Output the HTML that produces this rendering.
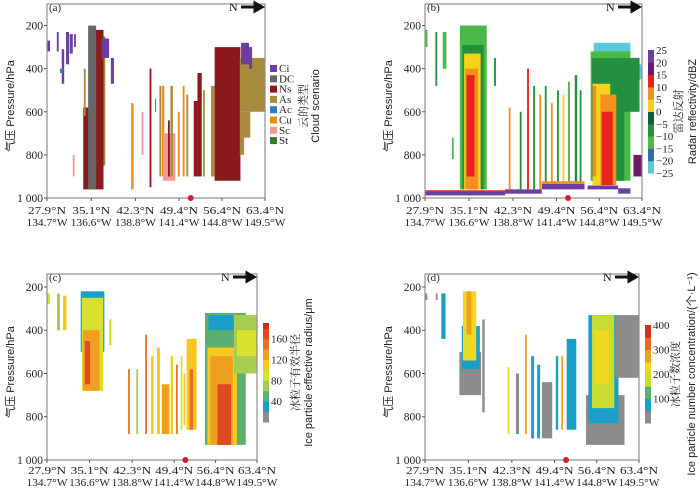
<!DOCTYPE html>
<html><head><meta charset="utf-8">
<style>
html,body{margin:0;padding:0;background:#fff;}
svg{display:block;font-family:"Liberation Serif","Noto Serif CJK SC",serif;}
</style></head>
<body>
<svg id="fig" width="700" height="498" viewBox="0 0 700 498" xmlns="http://www.w3.org/2000/svg"></svg>
<script>
// ---------- data ----------
const latTicks = [27.9, 35.1, 42.3, 49.4, 56.4, 63.4];
const lonTicks = ["134.7°W", "136.6°W", "138.8°W", "141.4°W", "144.8°W", "149.5°W"];
const presTicks = [200, 400, 600, 800, 1000];
const markerLat = 51.3;

const cloudClasses = ["Ci", "DC", "Ns", "As", "Ac", "Cu", "Sc", "St"];
const cloudColors = ["#6a3fa0", "#676767", "#8c1a1c", "#a68c3c", "#3a78b8", "#f08c1e", "#f29a98", "#3a7a2c"];

// [lat0, lat1, pTop, pBot, class]
const cloudSegs = [
 [28.0,28.4,270,320,"Ci"],[29.5,29.8,230,320,"Ci"],[30.3,30.7,310,470,"Ci"],[31.0,31.5,230,380,"Ci"],[31.6,32.1,240,330,"Ci"],[32.3,32.6,240,300,"Ci"],
 [30.0,30.5,400,420,"Ac"],[32.1,32.4,800,900,"Sc"],
 [33.8,35.9,580,960,"Ns"],[35.8,37.1,220,960,"Ns"],[34.6,35.9,200,960,"DC"],[33.9,34.2,400,620,"As"],[37.1,37.4,250,850,"As"],
 [36.8,38.0,260,350,"Ci"],[38.3,38.8,350,470,"Ci"],
 [41.6,42.0,560,960,"Cu"],[43.3,43.6,600,800,"Sc"],[44.6,44.9,400,950,"Ns"],[45.5,45.6,540,600,"Ac"],
 [46.2,46.5,480,900,"As"],[46.6,47.0,480,900,"Cu"],[46.8,48.8,700,920,"Sc"],[47.6,47.9,640,900,"Ns"],[48.0,48.4,480,900,"As"],
 [49.2,49.5,600,900,"Cu"],[50.0,50.3,480,900,"Cu"],[50.6,50.9,520,900,"As"],[51.8,52.4,550,900,"Ns"],[52.4,53.1,420,900,"Ns"],[53.3,53.6,500,900,"As"],
 [54.6,55.2,480,900,"As"],[55.2,59.4,300,920,"Ns"],
 [59.3,63.3,350,600,"As"],[59.3,61.0,600,720,"As"],[59.3,60.0,720,800,"As"],[59.5,60.8,280,380,"Ci"],[60.8,61.3,300,400,"Ci"]
];

// radar reflectivity (dBZ)
const dbzLevels = [-25,-20,-15,-10,-5,0,5,10,15,20,25];
const dbzColors = ["#5cc8dc","#2c6cb0","#4cb848","#22903e","#0e5e3a","#f7d21a","#f29020","#e8221c","#6a1b6a","#6b3fa0"];
const dbzSegs = [
 [33.6,38.0,200,960,-12],[34.0,37.5,290,960,-7],[34.3,37.0,330,960,2],[34.5,36.6,400,960,7],[34.7,36.0,430,900,12],
 [28.0,28.3,220,300,-12],[29.6,29.9,230,480,-10],[30.8,31.4,230,400,-12],[32.3,32.6,720,820,-12],[39.2,39.5,350,480,-10],
 [55.5,61.5,280,340,-22],[60.0,63.3,380,450,-22],
 [55.0,61.5,320,920,-12],[55.2,60.5,350,920,-7],[59.5,63.0,350,600,-10],
 [55.3,58.2,470,940,2],[56.6,59.2,520,940,7],[56.8,58.6,600,940,12],[55.3,55.9,480,900,7],[62.0,63.3,800,900,17],
 [41.6,41.9,580,960,5],[44.6,44.9,400,960,10],[45.6,45.9,480,960,-10],[46.6,46.9,520,960,5],[47.5,47.8,480,960,-10],
 [48.5,48.8,560,960,5],[49.5,49.8,500,960,-10],[50.4,50.7,520,960,2],[51.3,51.6,460,960,-12],[52.4,52.8,430,940,-10],
 [53.2,53.5,500,940,-10],[43.4,43.7,600,960,-10],
 [28.0,41.0,972,988,22],[28.0,41.0,964,972,12],[41.0,47.0,960,980,22],[47.0,54.0,935,960,22],[47.0,54.0,922,935,7],
 [54.5,59.5,942,960,22],[59.5,61.5,955,980,22]
];

// ice effective radius (um)
const reLevels = [0,20,40,60,80,100,120,140,160,180,190];
const reColors = ["#8c8c8c","#1aa0c8","#5ab070","#a8cc50","#d8e030","#f8c820","#f0a020","#e87020","#e04a20","#c8281e"];
const reSegs = [
 [33.6,37.6,220,500,30],[33.8,37.4,250,680,90],[34.0,36.8,400,680,130],[34.3,35.2,450,650,165],
 [28.0,28.4,230,280,90],[29.6,30.1,230,400,70],[30.6,31.2,240,400,100],[38.4,38.8,350,470,90],
 [41.6,41.9,580,880,150],[44.5,44.8,420,880,140],[43.0,43.3,580,880,60],[45.5,45.9,520,880,110],[46.5,47.0,480,880,110],
 [47.3,48.6,650,880,130],[48.8,49.2,520,880,100],[49.7,50.0,560,880,150],[50.5,50.8,520,860,90],[51.5,53.2,440,860,100],
 [52.0,52.6,580,860,140],[51.0,51.3,600,840,100],
 [54.6,61.5,320,930,50],[55.2,60.0,330,400,25],[55.0,60.0,480,930,100],[55.5,59.3,520,930,130],[56.7,59.0,650,930,165],
 [59.5,63.3,330,600,60],[60.0,63.3,400,520,80]
];

// ice number concentration (per L)
const ncLevels = [0,50,100,150,200,250,300,350,400];
const ncColors = ["#8c8c8c","#1aa0c8","#5ab070","#c8dc30","#f0d820","#f0a020","#e86a20","#d8301e"];
const ncSegs = [
 [33.6,37.2,500,700,20],[34.0,37.0,380,580,80],[34.2,36.4,220,540,210],[34.8,35.6,220,420,290],[37.4,37.8,350,780,20],
 [28.0,28.3,230,260,20],[30.6,31.3,230,440,70],[29.7,30.0,230,260,20],
 [41.6,41.9,570,880,220],[44.5,44.8,420,880,260],[45.5,46.0,520,900,70],[46.5,47.0,560,900,70],[47.3,49.0,640,900,20],
 [49.6,50.0,520,860,80],[50.5,50.8,520,860,260],[51.4,53.0,440,860,80],[43.0,43.5,600,880,20],
 [54.6,61.0,700,930,20],[55.0,60.0,330,830,80],[55.6,59.3,330,760,160],[56.0,58.5,400,650,220],[59.5,63.3,330,620,20]
];

// ---------- drawing ----------
const NS = "http://www.w3.org/2000/svg";
const svg = document.getElementById("fig");
function mk(tag, attrs, parent, text){
  const e = document.createElementNS(NS, tag);
  for (const k in attrs) e.setAttribute(k, attrs[k]);
  if (text !== undefined) e.textContent = text;
  (parent||svg).appendChild(e);
  return e;
}
function colorFor(levels, colors, v){
  for (let i = 0; i < colors.length; i++) if (v < levels[i+1]) return colors[i];
  return colors[colors.length-1];
}

const panels = [
 {id:"a", x0:47, x1:265, yT:4, yB:198, pT:100},
 {id:"b", x0:425, x1:642, yT:4, yB:198, pT:100},
 {id:"c", x0:47, x1:257, yT:274, yB:460, pT:140},
 {id:"d", x0:425, x1:639, yT:274, yB:460, pT:140}
];

panels.forEach(P => {
  const g = mk("g", {});
  
  
  const xs = lat => P.x0 + (lat - latTicks[0]) / (latTicks[5] - latTicks[0]) * (P.x1 - P.x0);
  const ys = p => P.yT + (p - P.pT) / (1000 - P.pT) * (P.yB - P.yT);

  let segs, colf;
  if (P.id === "a") { segs = cloudSegs; colf = c => cloudColors[cloudClasses.indexOf(c)]; }
  else if (P.id === "b") { segs = dbzSegs; colf = v => colorFor(dbzLevels, dbzColors, v); }
  else if (P.id === "c") { segs = reSegs; colf = v => colorFor(reLevels, reColors, v); }
  else { segs = ncSegs; colf = v => colorFor(ncLevels, ncColors, v); }

  const dg = mk("g", {}, g);
  
  
  segs.forEach(s => {
    const r = mk("rect", {x: xs(s[0]), y: ys(s[2]), width: Math.max(1, xs(s[1]) - xs(s[0])), height: ys(s[3]) - ys(s[2]), fill: colf(s[4])}, dg);
    
    
  });

  const fr = mk("rect", {x: P.x0, y: P.yT, width: P.x1 - P.x0, height: P.yB - P.yT, fill: "none", stroke: "#777", "stroke-width": 1}, g);
  
  

  presTicks.forEach(p => {
    mk("line", {x1: P.x0 - 3, x2: P.x0, y1: ys(p), y2: ys(p), stroke: "#555"}, g);
    const t = mk("text", {x: P.x0 - 4, y: ys(p) + 4, "text-anchor": "end", "font-size": 11.5, fill: "#222"}, g, p === 1000 ? "1 000" : String(p));
    
    
  });
  const rowY = P.id < "c" ? 214 : 474;
  latTicks.forEach((lat, i) => {
    mk("line", {x1: xs(lat), x2: xs(lat), y1: P.yB, y2: P.yB + 3, stroke: "#555"}, g);
    const t1 = mk("text", {x: xs(lat), y: rowY, "text-anchor": "middle", "font-size": 11, fill: "#222", textLength: 38, lengthAdjust: "spacingAndGlyphs"}, g, lat.toFixed(1) + "°N");
    
    
    const t2 = mk("text", {x: xs(lat), y: rowY + 12, "text-anchor": "middle", "font-size": 11, fill: "#222", textLength: 41, lengthAdjust: "spacingAndGlyphs"}, g, lonTicks[i]);
    
    
  });
  const dot = mk("circle", {cx: xs(markerLat), cy: P.yB, r: 3, fill: "#d0202a"}, g);
  
  

  const yl = mk("text", {transform: `translate(${P.x0 - 33},${(P.yT + P.yB) / 2 + 5}) rotate(-90)`, "text-anchor": "middle", "font-size": 11, fill: "#222", "font-family": "Liberation Sans, Noto Sans CJK SC, sans-serif"}, g, "气压 Pressure/hPa");
  
  

  const pl = mk("text", {x: P.x0 + 2, y: P.yT + 7, "font-size": 11, fill: "#222"}, g, "(" + P.id + ")");
  
  

  const ax = P.x1 - 36, ay = P.yT + 3;
  const nt = mk("text", {x: ax, y: ay + 4, "font-size": 12, fill: "#111"}, g, "N");
  
  
  const ar = mk("path", {d: `M${ax+12},${ay} L${ax+30},${ay} M${ax+26},${ay-4} L${ax+33},${ay} L${ax+26},${ay+4} Z`, stroke: "#111", "stroke-width": 3, fill: "#111"}, g);
  
  
});

// legend a
const lg = mk("g", {});


cloudClasses.forEach((c, i) => {
  const y = 65 + i * 10.3;
  const sw = mk("rect", {x: 270, y: y, width: 7, height: 7, fill: cloudColors[i]}, lg);
  
  
  const t = mk("text", {x: 279, y: y + 7, "font-size": 11, fill: "#222"}, lg, c);
  
  
});
const lt = mk("text", {transform: "translate(307,106) rotate(-90)", "text-anchor": "middle", "font-size": 11, fill: "#222"}, lg, "云的类型");


const lt2 = mk("text", {transform: "translate(319,106) rotate(-90)", "text-anchor": "middle", "font-size": 11, fill: "#222", "font-family": "Liberation Sans, sans-serif"}, lg, "Cloud scenario");



// colorbars
function colorbar(name, x, yTop, yBot, levels, colors, labels, titleCn, titleEn, tx, tx2){
  const g = mk("g", {});
  
  
  const lo = levels[0], hi = levels[levels.length-1];
  const yv = v => yBot - (v - lo) / (hi - lo) * (yBot - yTop);
  colors.forEach((c, i) => {
    const r = mk("rect", {x: x, y: yv(levels[i+1]), width: 6, height: yv(levels[i]) - yv(levels[i+1]) + 0.5, fill: c}, g);
    
    
  });
  labels.forEach(v => {
    const t = mk("text", {x: x + 8, y: yv(v) + 4, "font-size": 11, fill: "#222"}, g, v < 0 ? "−" + (-v) : String(v));
    
    
  });
  const mid = (yTop + yBot) / 2;
  const t1 = mk("text", {transform: `translate(${tx},${mid}) rotate(-90)`, "text-anchor": "middle", "font-size": 11, fill: "#222"}, g, titleCn);
  
  
  const t2 = mk("text", {transform: `translate(${tx2},${mid}) rotate(-90)`, "text-anchor": "middle", "font-size": 11, fill: "#222", "font-family": "Liberation Sans, Noto Sans CJK SC, sans-serif"}, g, titleEn);
  
  
}
colorbar("reflectivity-colorbar", 648, 50, 173, dbzLevels, dbzColors, [25,20,15,10,5,0,-5,-10,-15,-20,-25], "雷达反射", "Radar reflectivity/dBZ", 682, 696);
colorbar("radius-colorbar", 263, 323, 422, [0,20,40,60,80,100,120,140,160,180,190], reColors, [40,80,120,160], "冰粒子有效半径", "Ice particle effective radius/μm", 299, 312);
colorbar("concentration-colorbar", 645, 325, 423, [0,50,100,150,200,250,300,350,400], ncColors, [100,200,300,400], "冰粒子数浓度", "Ice particle number concentration/(个·L⁻¹)", 679, 695);
</script>
</body></html>
